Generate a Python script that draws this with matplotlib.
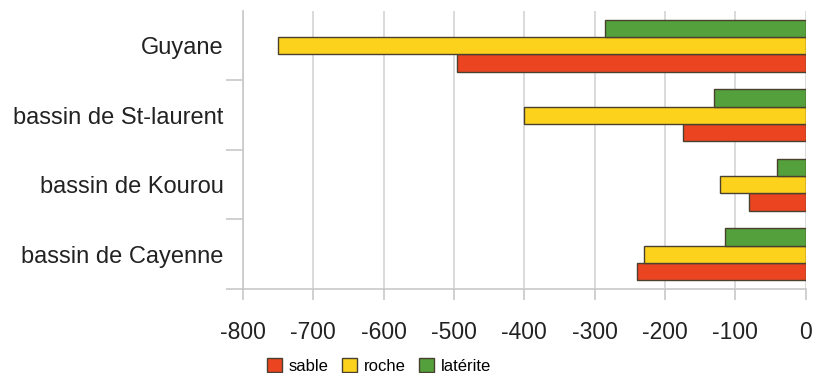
import numpy as np
import matplotlib.pyplot as plt
from matplotlib.patches import Patch

plt.rcParams['font.family'] = ['Liberation Sans', 'DejaVu Sans']

# data (top to bottom in the chart)
categories = ['Guyane', 'bassin de St-laurent', 'bassin de Kourou', 'bassin de Cayenne']
sable = [-495, -174, -81, -239]
roche = [-750, -400, -121, -229]
laterite = [-285, -130, -41, -115]
xticks = [-800, -700, -600, -500, -400, -300, -200, -100, 0]

c_sable = '#ea4520'
c_roche = '#fdd21c'
c_lat = '#53a03c'
edge = '#4a4030'

fig = plt.figure(figsize=(8.16, 3.73), dpi=100)
ax = fig.add_axes([243/816, 1 - 289/373, (805.5 - 243)/816, (289 - 11)/373])

n = len(categories)
ypos = np.arange(n)[::-1]  # Guyane at top
h = 0.25
ax.barh(ypos - h, sable, height=h, color=c_sable, edgecolor=edge, linewidth=1, zorder=3)
ax.barh(ypos, roche, height=h, color=c_roche, edgecolor=edge, linewidth=1, zorder=3)
ax.barh(ypos + h, laterite, height=h, color=c_lat, edgecolor=edge, linewidth=1, zorder=3)

ax.set_xlim(-800, 0)
ax.set_ylim(-0.5, n - 0.5)
ax.set_xticks(xticks)
ax.set_xticklabels([str(v) for v in xticks], fontsize=16.5, color='#222222')
ax.xaxis.grid(True, color='#d4d4d4', linewidth=1.2, zorder=0)

# category boundaries as major ticks, labels as minor ticks
ax.set_yticks(np.arange(n) - 0.5)
ax.set_yticklabels([])
ax.set_yticks(ypos, minor=True)
ax.set_yticklabels(categories, minor=True, fontsize=17, color='#222222')
ax.tick_params(axis='y', which='major', length=12, color='#c8c8c8', width=1.2)
ax.tick_params(axis='y', which='minor', length=0, pad=14)
ax.tick_params(axis='x', length=8, color='#c8c8c8', width=1.2, pad=15)

for s in ['top', 'right']:
    ax.spines[s].set_visible(False)
for s in ['left', 'bottom']:
    ax.spines[s].set_color('#c8c8c8')
    ax.spines[s].set_linewidth(1.2)

handles = [Patch(facecolor=c_sable, edgecolor=edge, label='sable'),
           Patch(facecolor=c_roche, edgecolor=edge, label='roche'),
           Patch(facecolor=c_lat, edgecolor=edge, label='latérite')]
fig.legend(handles=handles, loc='center left', bbox_to_anchor=(259/816, 1 - 366/373),
           ncol=3, frameon=False, fontsize=12, handlelength=0.9, handleheight=0.9,
           handletextpad=0.4, columnspacing=0.8, borderpad=0)

fig.savefig('out.png', dpi=100)
